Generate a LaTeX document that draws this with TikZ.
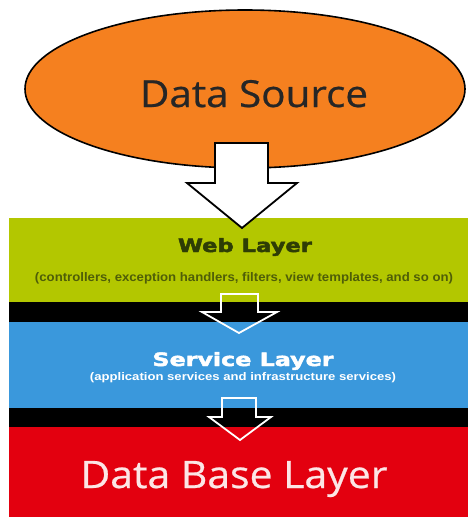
\documentclass[tikz,border=0pt]{standalone}
\usepackage{fontspec}
\usepackage{graphicx}
\usetikzlibrary{shapes.geometric}
\newfontfamily\roundfont{Open Sans}[FakeBold=0.6]
\newfontfamily\heavyfont{DejaVu Sans}[BoldFeatures={FakeBold=2.2}]
\newfontfamily\smallfont{Liberation Sans}

\definecolor{srcorange}{HTML}{F5801F}
\definecolor{webgreen}{HTML}{B3C700}
\definecolor{svcblue}{HTML}{3A98DC}
\definecolor{dbred}{HTML}{E3000F}
\definecolor{webtitle}{HTML}{2E3D05}
\definecolor{websub}{HTML}{4F5E08}
\definecolor{dbtext}{HTML}{FCE6E6}

\tikzset{
  band/.style={rectangle, draw=none, inner sep=0pt, anchor=north west, minimum width=459pt},
  label/.style={inner sep=0pt, anchor=base},
  bigarrow/.style={draw=black, fill=white, line width=1.8pt, line join=miter},
  gaparrow/.style={draw=white, line width=1.8pt, line join=miter},
}

\begin{document}
\begin{tikzpicture}[x=1pt, y=-1pt]
  \useasboundingbox (0,0) rectangle (468,517);

  % layer bands, top to bottom
  \node[band, fill=webgreen, minimum height=84pt] (web) at (9,218) {};
  \node[band, fill=black, minimum height=20pt] (gapA) at (9,302) {};
  \node[band, fill=svcblue, minimum height=86pt] (service) at (9,322) {};
  \node[band, fill=black, minimum height=19pt] (gapB) at (9,408) {};
  \node[band, fill=dbred, minimum height=90pt] (db) at (9,427) {};

  % data source
  \node[ellipse, draw=black, line width=1.6pt, fill=srcorange,
        minimum width=440pt, minimum height=158pt, inner sep=0pt] (source) at (245,89) {};
  \node[label] (srctext) at (254,107)
    {\resizebox{228pt}{27pt}{\roundfont\color{black!85}Data Source}};

  % big arrow from the source into the web layer
  \coordinate (tipA) at (242,228);
  \draw[bigarrow] (215,143) -- (268,143) -- (268,183) -- (297,183) -- (tipA)
    -- (187,183) -- (215,183) -- cycle;

  % web layer texts
  \node[label] (webtitle) at (245,252)
    {\resizebox{134pt}{14pt}{\heavyfont\bfseries\color{webtitle}Web Layer}};
  \node[label] (websub) at (244,281)
    {\resizebox{418pt}{9pt}{\smallfont\bfseries\color{websub}(controllers, exception handlers, filters, view templates, and so on)}};

  % arrow web -> service
  \coordinate (tipB) at (239,333);
  \draw[gaparrow] (221,294) -- (258,294) -- (258,312) -- (277,312) -- (tipB)
    -- (202,312) -- (221,312) -- cycle;

  % service layer texts
  \node[label] (svctitle) at (243,366)
    {\resizebox{181pt}{14pt}{\heavyfont\bfseries\color{white}Service Layer}};
  \node[label] (svcsub) at (243,380)
    {\resizebox{306pt}{8pt}{\smallfont\bfseries\color{white}(application services and infrastructure services)}};

  % arrow service -> data base
  \coordinate (tipC) at (240,440);
  \draw[gaparrow] (222,398) -- (256,398) -- (256,417) -- (271,417) -- (tipC)
    -- (209,417) -- (222,417) -- cycle;

  % data base layer text
  \node[label] (dbtitle) at (234,488)
    {\resizebox{307pt}{27pt}{\roundfont\color{dbtext}Data Base Layer}};
\end{tikzpicture}
\end{document}
